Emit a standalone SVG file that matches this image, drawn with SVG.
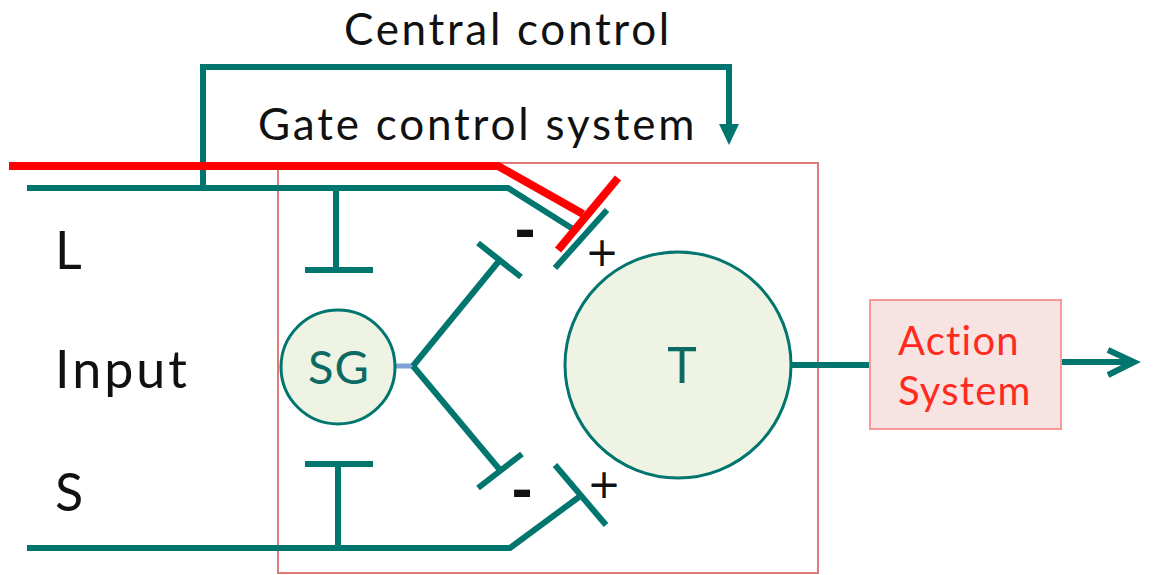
<svg xmlns="http://www.w3.org/2000/svg" width="1173" height="575" viewBox="0 0 1173 575">
<style>
.t{stroke:#00766F;stroke-width:6;fill:none;stroke-linecap:butt}
.r{stroke:#FF0000;stroke-width:8;fill:none}
.lbl{font-family:Lato,"Open Sans",sans-serif;fill:#111}
.pm{font-family:"DejaVu Sans",sans-serif;fill:#111;text-anchor:middle}
.mn{font-family:"DejaVu Sans",sans-serif;fill:#111;text-anchor:middle;font-weight:bold;font-size:52px}
.nd{fill:#EEF3E3;stroke:#00766F;stroke-width:3}
.nt{font-family:Lato,"Open Sans",sans-serif;fill:#0B6A64;text-anchor:middle}
.at{font-family:Lato,"Open Sans",sans-serif;fill:#FF2A1E;font-size:40px;letter-spacing:1.2px}
</style>
<rect width="1173" height="575" fill="#fff"/>
<g id="gate-box">
<rect x="278" y="163" width="540" height="410" fill="none" stroke="#E07A78" stroke-width="2"/>
</g>
<g id="labels">
<text class="lbl" x="344" y="45" font-size="44" letter-spacing="2.7">Central control</text>
<text class="lbl" x="258" y="140" font-size="44" letter-spacing="2.8">Gate control system</text>
<text class="lbl" x="55" y="269" font-size="52">L</text>
<text class="lbl" x="55" y="388" font-size="52" letter-spacing="3">Input</text>
<text class="lbl" x="55" y="511" font-size="52">S</text>
<text class="mn" x="525" y="248">-</text>
<text class="pm" x="602" y="266" font-size="40">+</text>
<text class="mn" x="522" y="508">-</text>
<text class="pm" x="604" y="498" font-size="40">+</text>
</g>
<g id="connectors">
<path class="t" d="M203,188 V67 H729 V128"/>
<path d="M719,124 L739,124 L729,145 z" fill="#00766F"/>
<path class="t" d="M27,188 H508 L573,229"/>
<path class="t" d="M555,268 L607,210"/>
<path class="t" d="M336,188 V270"/>
<path class="t" d="M305,270 H373"/>
<path class="t" d="M27,548 H510 L579,497"/>
<path class="t" d="M555,465 L606,525"/>
<path class="t" d="M338,548 V464"/>
<path class="t" d="M305,464 H373"/>
<path d="M395,366 H414" stroke="#7FA2D6" stroke-width="5" fill="none"/>
<path class="t" d="M413,366 L499,261"/>
<path class="t" d="M478,243 L521,277"/>
<path class="t" d="M413,366 L500,470"/>
<path class="t" d="M478,488 L522,454"/>
<path class="t" d="M792,365 H869"/>
<path class="t" d="M1061,362 H1134"/>
<path class="t" d="M1108,350 L1134,362 L1108,375"/>
<path class="r" d="M9,166 H498 L583,214"/>
<path class="r" d="M558,250 L618,178"/>
</g>
<g id="node-SG">
<circle class="nd" cx="338" cy="367" r="57"/>
<text class="nt" x="339" y="384" font-size="47" letter-spacing="1">SG</text>
</g>
<g id="node-T">
<circle class="nd" cx="678" cy="365" r="113"/>
<text class="nt" x="682" y="383" font-size="50">T</text>
</g>
<g id="node-action">
<rect x="870" y="300" width="191" height="129" fill="#F8E3E3" stroke="#F59A98" stroke-width="2"/>
<text class="at" x="898" y="355">Action</text>
<text class="at" x="898" y="405">System</text>
</g>
</svg>
